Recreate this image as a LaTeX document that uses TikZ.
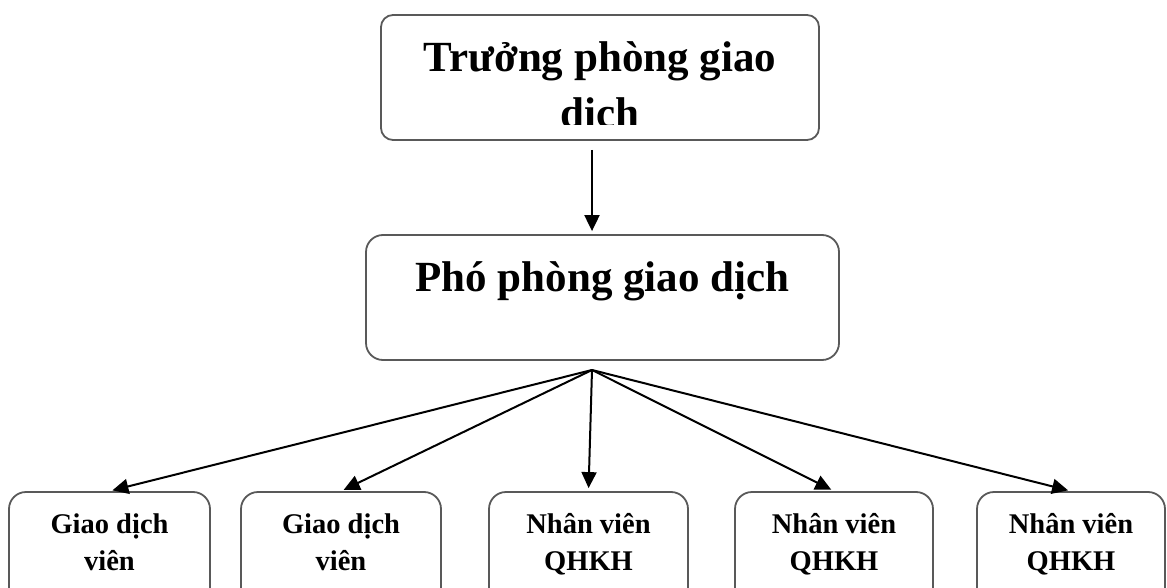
\documentclass[tikz,border=0pt]{standalone}
\usepackage{fontspec}
\setmainfont{Liberation Serif}
\usetikzlibrary{arrows.meta}
\tikzset{
  box/.style={draw=black!65,line width=1.8pt,rounded corners=17pt,inner sep=0pt,align=center},
  bigbox/.style={box,font=\bfseries\fontsize{43}{56}\selectfont,text height=30pt},
  smallbox/.style={box,minimum height=130pt,font=\bfseries\fontsize{28.5}{37}\selectfont,text height=57pt,text depth=31pt},
  arr/.style={line width=2pt,-{Triangle[length=16pt,width=15pt]},shorten >=3pt}
}
\begin{document}
\begin{tikzpicture}[x=1pt,y=-1pt]
\clip (0,0) rectangle (1167,588);
\node[bigbox,rounded corners=12pt,minimum width=438pt,minimum height=125pt] (tp) at (600,77.5) {};
\begin{scope}
\clip (381,15) rectangle (819,125);
\node[bigbox,draw=none,text height=86pt,text depth=0pt] (tptext) at ([yshift=-7.5pt]tp.center) {Trưởng phòng giao\\dịch};
\end{scope}
\node[bigbox,minimum width=473pt,minimum height=125pt,text depth=43pt] (pp) at (602.5,297.5) {Phó phòng giao dịch};
\coordinate (hub) at (592,370);
\draw[arr] ([yshift=-9pt]tp.south -| hub) -- (pp.north -| hub);
\foreach \x/\w/\nm/\txt in {109.5/201/gd1/{Giao dịch\\viên},341/200/gd2/{Giao dịch\\viên},588.5/199/nv1/{Nhân viên\\QHKH},834/198/nv2/{Nhân viên\\QHKH},1071/188/nv3/{Nhân viên\\QHKH}}{
  \node[smallbox,minimum width=\w pt] (\nm) at (\x,557) {\txt};
  \draw[arr] (hub) -- (\nm.north);
}
\end{tikzpicture}
\end{document}
